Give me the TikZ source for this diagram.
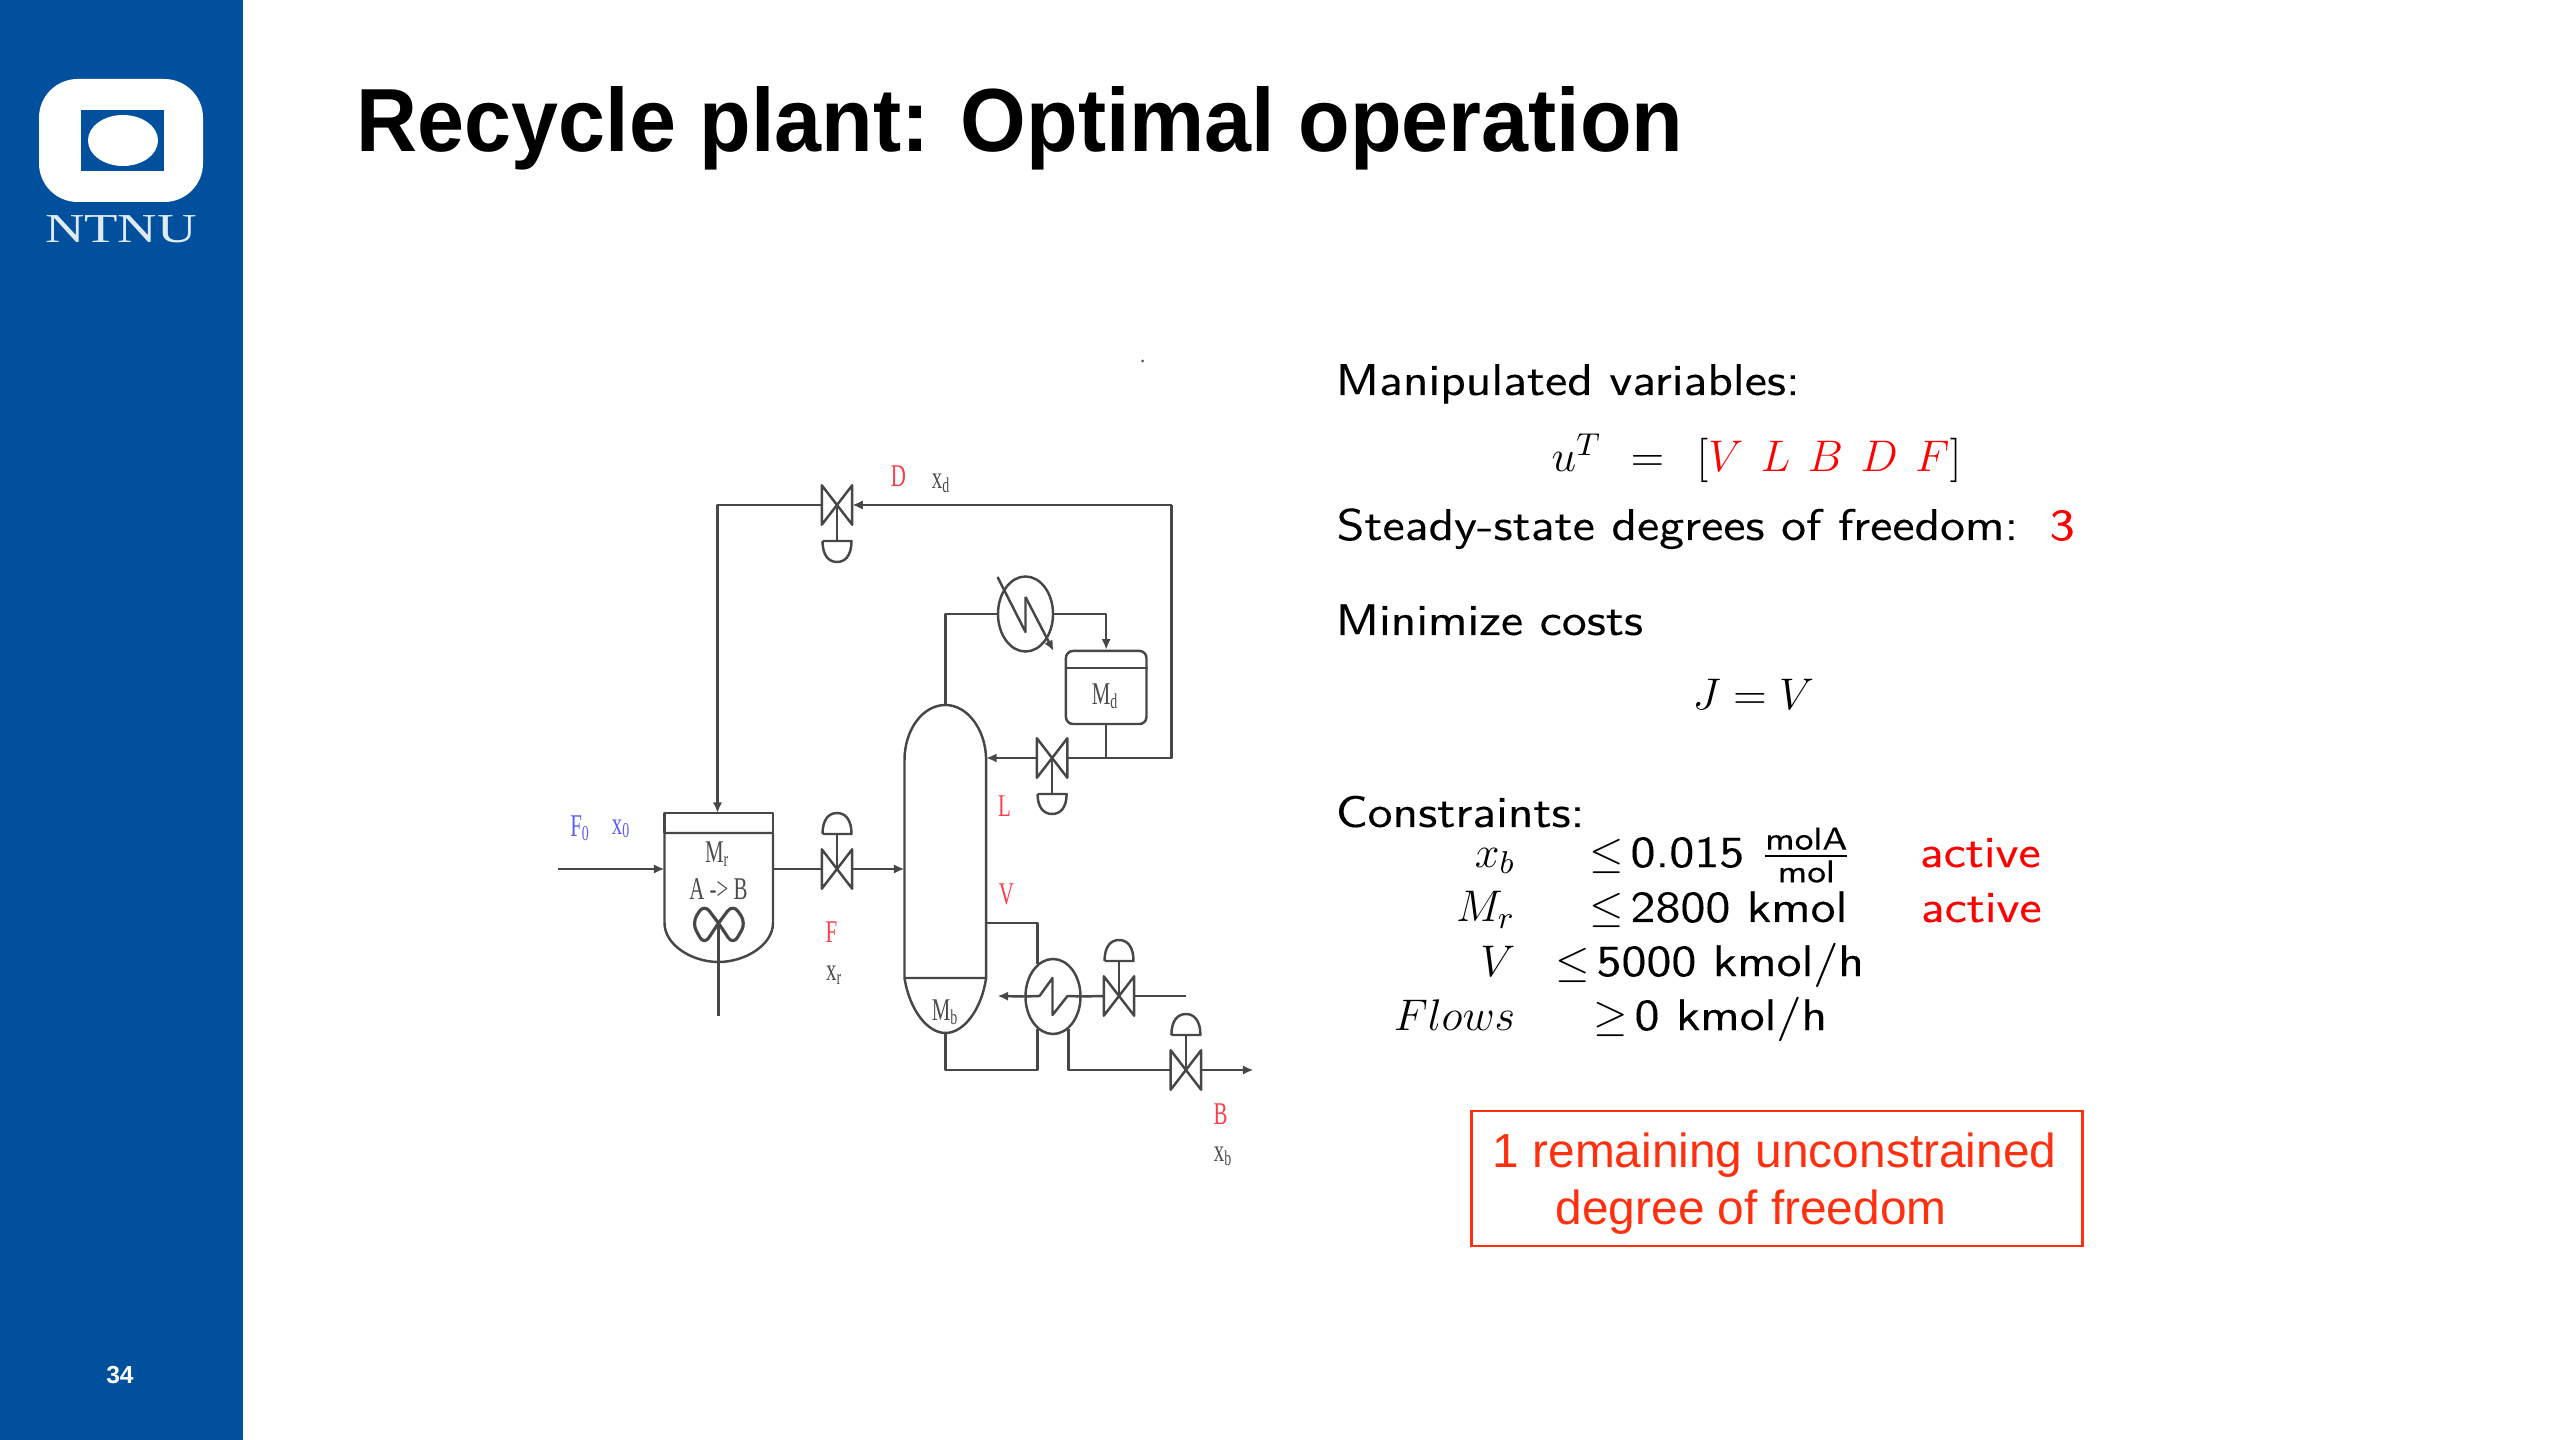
\documentclass[tikz,border=0pt]{standalone}
\usepackage{fix-cm}
\usepackage{amsmath}
\usepackage{fontspec}
\usetikzlibrary{shapes.geometric,arrows.meta}
\newfontfamily\arialfont{Liberation Sans}
\newfontfamily\titlefont[FakeStretch=0.942]{Liberation Sans}
\newfontfamily\logofont[FakeStretch=1.33]{Liberation Serif}
\newfontfamily\plantfont[FakeStretch=0.66]{Liberation Serif}
\newfontfamily\sidefont[FakeStretch=1.15,FakeBold=0.15]{Latin Modern Sans}
\DeclareMathSizes{12.6}{12.6}{9}{7}

\definecolor{ntnublue}{RGB}{0,80,158}
\definecolor{plantred}{RGB}{255,60,75}
\definecolor{plantblue}{RGB}{90,90,255}
\definecolor{boxred}{RGB}{255,48,16}

\tikzset{
    pipe/.style={line width=0.7pt, draw=black!72, line join=round},
    flow/.style={pipe, -{Latex[length=3pt,width=2.6pt]}},
    valvebox/.style={minimum width=0.29cm, minimum height=0.38cm, inner sep=0pt},
    exch/.style={ellipse, draw=black!72, line width=0.7pt, minimum width=0.55cm, minimum height=0.75cm, inner sep=0pt},
    sidetxt/.style={inner sep=0pt, font=\sidefont\fontsize{12.6}{15}\selectfont},
    plantlbl/.style={inner sep=0pt, text=black!70, font=\plantfont\fontsize{9}{10}\selectfont},
}

% valve body, then actuator (stem length, dome height)
\newcommand{\valve}[3]{%
    \node[valvebox] (#1) at (#2,#3) {};
    \draw[pipe, fill=white] (#1.south west) -- (#1.north east) -- (#1.south east) -- (#1.north west) -- cycle;
}
\newcommand{\actuator}[3]{%
    \begin{scope}[shift={(#1.center)}]
        \draw[pipe] (0,0) -- (0,#2);
        \draw[pipe] (-14.5,#2) -- (14.5,#2) .. controls (14.5,#2+0.7*#3) and (8,#2+#3) .. (0,#2+#3)
            .. controls (-8,#2+#3) and (-14.5,#2+0.7*#3) .. (-14.5,#2);
    \end{scope}
}

\begin{document}
\begin{tikzpicture}[x=0.01cm, y=-0.01cm]
    \useasboundingbox (0,0) rectangle (2560,1440);

    % sidebar
    \fill[ntnublue] (0,0) rectangle (243,1440);
    \fill[white, rounded corners=11pt] (39,79) rectangle (203,202);
    \fill[ntnublue] (81,110) rectangle (164,171);
    \fill[white] (123,140.5) ellipse (35 and 25.5);
    \node[anchor=base, inner sep=0pt, text=white!88!ntnublue, font=\logofont\fontsize{11.7}{12}\selectfont] (logotxt) at (121,243) {NTNU};
    \node[inner sep=0pt, text=white, font=\arialfont\bfseries\fontsize{7}{8}\selectfont] (pagenum) at (120,1375) {34};

    % title
    \node[anchor=base west, inner sep=0pt, font=\titlefont\bfseries\fontsize{25.5}{30}\selectfont] (title) at (356,152) {Recycle plant: Optimal operation};

    \begin{scope}[shift={(-2.5,0)}]
    % reactor
    \coordinate (rTop) at (720,813);
    \coordinate (rW) at (667,869);
    \coordinate (rE) at (775.5,869);
    \coordinate (rMix) at (721,923);
    \coordinate (rShaft) at (721,1016);
    \draw[pipe] (667,833) -- (667,813) -- (775.5,813) -- (775.5,833);
    \draw[pipe] (667,833) -- (775.5,833) -- (775.5,923) .. controls (775.5,945) and (747.5,962) .. (721,962)
        .. controls (694.5,962) and (667,945) .. (667,923) -- cycle;
    \draw[pipe] (rShaft) -- (rMix);
    \draw[pipe, rounded corners=2.5pt, line width=0.9pt] (rMix) -- (706.5,904) -- (694.5,923) -- (706.5,945) -- (rMix)
        -- (735.5,904) -- (748.5,923) -- (735.5,945) -- cycle;

    % column
    \coordinate (cTop) at (948,705);
    \coordinate (cW) at (907,869);
    \coordinate (cL) at (988.6,758);
    \coordinate (cVap) at (988.6,923);
    \coordinate (cBot) at (948,1033);
    \draw[pipe] (907,978) -- (907,760) .. controls (907,730) and (925,705) .. (cTop)
        .. controls (970,705) and (988.6,730) .. (988.6,760) -- (988.6,978) -- cycle;
    \draw[pipe] (907,978) .. controls (912,1010) and (930,1033) .. (cBot) .. controls (966,1033) and (984,1010) .. (988.6,978);

    % condenser and drum
    \node[exch] (cond) at (1028,614) {};
    \draw[pipe] (1000,577) -- (1028,632) -- (1028,597);
    \draw[flow] (1028,597) -- (1056,651);
    \node[draw=black!72, line width=0.7pt, rounded corners=2pt, minimum width=0.805cm, minimum height=0.73cm, inner sep=0pt] (drum) at (1108.7,687.5) {};
    \draw[pipe] (drum.west |- 0,668) -- (drum.east |- 0,668);

    % reboiler
    \node[exch] (reb) at (1055.5,996.5) {};
    \coordinate (rebOut) at (1000,996);
    \coordinate (steam) at (1188,996);
    \coordinate (bOut) at (1256,1070);
    \draw[pipe] (reb.east) -- (1070,996) -- (1055,1015) -- (1055,978) -- (1042,996) -- (reb.west);
    \draw[flow] (reb.west) -- (rebOut);

    % valves
    \coordinate (fIn) at (560,869);
    \coordinate (recR) at (1174,505);
    \draw[flow] (fIn) -- (rW);

    \valve{vD}{839.5}{505}
    \valve{vL}{1054.6}{758}
    \valve{vF}{839.5}{869}
    \valve{vS}{1121.5}{996}
    \valve{vB}{1188.4}{1070}
    \actuator{vD}{36}{21}
    \actuator{vL}{36}{20}
    \actuator{vF}{-35}{-21}
    \actuator{vS}{-35}{-21}
    \actuator{vB}{-35}{-21}

    % pipes
    \draw[flow] (vD.west) -| (rTop);
    \draw[flow] (recR) -- (vD.east);
    \draw[pipe] (vL.east) -- (recR |- vL) -- (recR);
    \draw[pipe] (drum.south) -- (drum.south |- vL);
    \draw[flow] (vL.west) -- (cL);
    \draw[pipe] (rE) -- (vF.west);
    \draw[flow] (vF.east) -- (cW);
    \draw[pipe] (cTop) |- (cond.west);
    \draw[flow] (cond.east) -| (drum.north);
    \draw[pipe] (cVap) -| (reb.115);
    \draw[pipe] (vS.west) -- (reb.east);
    \draw[pipe] (steam) -- (vS.east);
    \draw[pipe] (cBot) |- (reb.245 |- vB) -- (reb.245);
    \draw[pipe] (reb.-65) |- (vB.west);
    \draw[flow] (vB.east) -- (bOut);

    % plant labels
    \node[plantlbl, text=plantred] (lblD) at (901,476) {D};
    \node[plantlbl] (lblXd) at (944,483) {x\textsubscript{d}};
    \node[plantlbl] (lblMd) at (1108,696) {M\textsubscript{d}};
    \node[plantlbl, text=plantblue] (lblF0) at (583,828) {F\textsubscript{0}};
    \node[plantlbl, text=plantblue] (lblX0) at (624,829) {x\textsubscript{0}};
    \node[plantlbl] (lblMr) at (720,854) {M\textsubscript{r}};
    \node[plantlbl] (lblRx) at (721,889) {A -> B};
    \node[plantlbl, text=plantred] (lblF) at (834,932) {F};
    \node[plantlbl] (lblXr) at (837,975) {x\textsubscript{r}};
    \node[plantlbl, text=plantred] (lblL) at (1007,806) {L};
    \node[plantlbl, text=plantred] (lblV) at (1009,894) {V};
    \node[plantlbl] (lblMb) at (948,1012) {M\textsubscript{b}};
    \node[plantlbl, text=plantred] (lblB) at (1223,1114) {B};
    \node[plantlbl] (lblXb) at (1226,1156) {x\textsubscript{b}};
    \fill[black!70] (1145,361) circle (1.5);
    \end{scope}

    % right-hand text
    \node[sidetxt, anchor=base west] (manip) at (1335,395) {Manipulated variables:};
    \node[sidetxt, anchor=base west] (uvec) at (1551,472) {$u^T\ =\hspace{5.6pt}[\textcolor{red}{V\hspace{5pt}L\hspace{5pt}B\hspace{5pt}D\hspace{5pt}F}]$};
    \node[sidetxt, anchor=base west] (dof) at (1336,540) {Steady-state degrees of freedom:};
    \node[sidetxt, anchor=base west, text=red] (dofval) at (2049,540) {3};
    \node[sidetxt, anchor=base west] (minim) at (1335,635) {Minimize costs};
    \node[sidetxt, anchor=base west] (cost) at (1692,710) {$J=V$};
    \node[sidetxt, anchor=base west] (constr) at (1335,827) {Constraints:};

    \node[sidetxt, anchor=base east] (rowXb) at (1516,867) {$x_b$};
    \node[sidetxt, anchor=base west] (rowXbv) at (1589,867) {$\leq$\hspace{1.8pt}0.015 $\frac{\text{molA}}{\text{mol}}$};
    \node[sidetxt, anchor=base west, text=red] (actA) at (1919,867) {active};
    \node[sidetxt, anchor=base east] (rowMr) at (1516,922) {$M_r$};
    \node[sidetxt, anchor=base west] (rowMrv) at (1589,922) {$\leq$\hspace{1.8pt}2800 kmol};
    \node[sidetxt, anchor=base west, text=red] (actB) at (1920,922) {active};
    \node[sidetxt, anchor=base east] (rowV) at (1516,976) {$V$};
    \node[sidetxt, anchor=base west] (rowVv) at (1555,976) {$\leq$\hspace{1.8pt}5000 kmol/h};
    \node[sidetxt, anchor=base east] (rowFl) at (1516,1030) {$Flows$};
    \node[sidetxt, anchor=base west] (rowFlv) at (1593,1030) {$\geq$\hspace{1.8pt}0 kmol/h};

    % remaining degree of freedom
    \node[draw=boxred, line width=0.8pt, minimum width=6.1cm, minimum height=1.35cm, inner sep=0pt] (dofbox) at (1777,1178.5) {};
    \node[anchor=base west, inner sep=0pt, text=boxred, font=\arialfont\fontsize{13.6}{16}\selectfont] (boxA) at (1492,1167) {1 remaining unconstrained};
    \node[anchor=base west, inner sep=0pt, text=boxred, font=\arialfont\fontsize{13.6}{16}\selectfont] (boxB) at (1555,1224) {degree of freedom};
\end{tikzpicture}
\end{document}
